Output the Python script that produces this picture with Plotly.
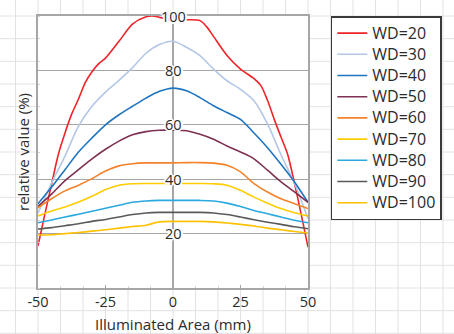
import plotly.graph_objects as go

# Position along the illuminated area (mm)
x_mm = [-50, -45, -40, -35, -30, -25, -20, -15, -10, -5, 0,
        5, 10, 15, 20, 25, 30, 35, 40, 45, 50]

# WD=20 is sampled more densely because of its steep edges
x_wd20 = [-50, -47.5, -45, -42.5, -40, -37.5, -35, -32.5, -30, -27.5, -25,
          -20, -15, -10, -7.5, -5, 0, 5, 10, 12.5, 15, 20, 25, 30, 32.5,
          35, 37.5, 40, 42.5, 45, 47.5, 50]
wd20 = [15.5, 27, 38, 49, 57, 64, 69.5, 75.5, 79.5, 82.5, 84.5,
        90.7, 97, 99.7, 100, 99.5, 98.5, 98.6, 98.3, 96, 92.5, 85.5, 80.5, 77, 74.5,
        69, 62, 55.5, 49, 38.5, 27, 15]

wd30 = [27.5, 38.5, 48.5, 59.5, 66.8, 72, 76.3, 81, 86.3, 89.5, 90.7,
        88.5, 85.4, 80.5, 76.2, 73, 68.8, 60.3, 49, 38.5, 25.5]
wd40 = [31, 37, 43.5, 50, 55.2, 60, 63.7, 66.8, 69.8, 72.3, 73.5,
        72.5, 70, 67, 64.5, 62, 57, 51.6, 45.5, 39, 31.5]
wd50 = [30, 34.5, 39.5, 43.5, 47.5, 51, 54, 56.3, 57.5, 58, 58,
        57.8, 56.5, 54.7, 52.2, 50, 47.5, 43.3, 39, 35.3, 31.5]
wd60 = [29.5, 32.8, 35.7, 37.8, 40.2, 43, 44.9, 45.7, 46, 46, 46,
        46.1, 46.1, 45.9, 45.1, 42.7, 38.4, 35.3, 32.8, 31, 29.2]
wd70 = [26.5, 28.3, 29.8, 31.6, 33.7, 36.2, 37.8, 38.3, 38.4, 38.4, 38.4,
        38.4, 38.4, 38.3, 37.8, 35.9, 33.4, 31.2, 29.2, 27.7, 26.5]
wd80 = [24, 25, 26.1, 27.1, 28.2, 29.3, 30.4, 31.5, 32, 32.2, 32.2,
        32.2, 32.2, 32, 31.2, 30, 28.5, 27.3, 26.1, 24.9, 24]
wd90 = [21.7, 22.2, 22.9, 23.6, 24.5, 25.2, 26.1, 27, 27.6, 27.8, 27.8,
        27.8, 27.8, 27.6, 27, 26.1, 25.1, 24.2, 23.4, 22.5, 21.8]
wd100 = [19.5, 19.6, 20, 20.4, 20.9, 21.4, 22, 22.6, 23.1, 24.3, 24.5,
         24.5, 24.5, 24.3, 23.9, 23.4, 22.8, 22, 21.4, 20.8, 20.2]

series_names = ["WD=20", "WD=30", "WD=40", "WD=50", "WD=60",
                "WD=70", "WD=80", "WD=90", "WD=100"]
series_colors = ["#ee2428", "#b4c7e7", "#1f74c0", "#7e3152", "#f5822a",
                 "#ffcc00", "#2aa8e0", "#5a5a5a", "#ffc000"]

x_ticks = [-50, -25, 0, 25, 50]
y_ticks = [20, 40, 60, 80, 100]

FONT = "Open Sans, Noto Sans, DejaVu Sans, sans-serif"
TEXT = "#2b2b2b"
FRAME = "#a6a6a6"
PAPER_GRID = "#e2e2e2"

fig = go.Figure()

xs = [x_wd20] + [x_mm] * 8
ys = [wd20, wd30, wd40, wd50, wd60, wd70, wd80, wd90, wd100]
for name, color, xv, yv in zip(series_names, series_colors, xs, ys):
    fig.add_trace(go.Scatter(
        x=xv, y=yv, mode="lines",
        # legend rows are spaced for 14 px, the entry text itself is 16 px
        name=f'<span style="font-size:16px">{name}</span>',
        line=dict(color=color, width=1.6, shape="spline", smoothing=0.8),
        hoverinfo="skip",
    ))

# Graph-paper background: one cell = 1/12 of the plot frame
shapes = []
for k in range(-2, 19):
    shapes.append(dict(type="line", xref="paper", yref="paper",
                       x0=k / 12, x1=k / 12, y0=-1, y1=2,
                       line=dict(color=PAPER_GRID, width=1), layer="below"))
for k in range(-3, 13):
    shapes.append(dict(type="line", xref="paper", yref="paper",
                       x0=-1, x1=3, y0=k / 12, y1=k / 12,
                       line=dict(color=PAPER_GRID, width=1), layer="below"))
# White plot area on top of the graph paper
shapes.append(dict(type="rect", xref="x domain", yref="y domain",
                   x0=0, x1=1, y0=0, y1=1, fillcolor="white",
                   line=dict(width=0), layer="below"))

# Value labels sit on the centre line with a white halo
halo = ("1px 0 0 #fff, -1px 0 0 #fff, 0 1px 0 #fff, 0 -1px 0 #fff, "
        "2px 0 0 #fff, -2px 0 0 #fff, 0 2px 0 #fff, 0 -2px 0 #fff, "
        "1px 1px 0 #fff, -1px -1px 0 #fff, 1px -1px 0 #fff, -1px 1px 0 #fff")
annotations = [
    dict(x=0, y=v, xref="x", yref="y", text=str(v), showarrow=False,
         xanchor="center", yanchor="middle",
         font=dict(family=FONT, size=14.5, color=TEXT, shadow=halo))
    for v in y_ticks
]
# Horizontal axis title, centred under the frame
annotations.append(dict(
    x=0.5, y=-36 / 272, xref="paper", yref="paper",
    text="Illuminated Area (mm)", showarrow=False,
    xanchor="center", yanchor="middle",
    font=dict(family=FONT, size=15, color=TEXT)))

fig.update_layout(
    width=454, height=334,
    margin=dict(l=38, r=144, t=16, b=46),
    paper_bgcolor="white", plot_bgcolor="white",
    font=dict(family=FONT, size=14, color=TEXT),
    shapes=shapes, annotations=annotations,
    showlegend=True,
    legend=dict(
        x=(333 - 38) / 272, y=1, xanchor="left", yanchor="top",
        bgcolor="white", bordercolor="#3a3a3a", borderwidth=1.5,
        font=dict(family=FONT, size=14, color=TEXT),
        tracegroupgap=0,
    ),
    xaxis=dict(
        range=[-50, 50], tickvals=x_ticks, ticktext=[str(v) for v in x_ticks],
        showgrid=False, zeroline=True, zerolinecolor=FRAME, zerolinewidth=1.5,
        showline=True, linecolor=FRAME, linewidth=1.5, mirror=True,
        ticks="inside", ticklen=3, tickcolor=FRAME,
        minor=dict(ticks="inside", ticklen=2, tickcolor="#d4d4d4",
                   tick0=-50, dtick=100 / 12),
        tickfont=dict(size=14.5, color=TEXT),
        fixedrange=True,
    ),
    yaxis=dict(
        range=[0, 100], tickvals=y_ticks, showticklabels=False,
        showgrid=True, gridcolor=FRAME, gridwidth=1.2,
        zeroline=False,
        showline=True, linecolor=FRAME, linewidth=1.5, mirror=True,
        ticks="",
        minor=dict(ticks="inside", ticklen=2, tickcolor="#d4d4d4",
                   tick0=0, dtick=100 / 12, showgrid=False),
        title=dict(text="relative value (%)", standoff=3,
                   font=dict(size=15, color=TEXT)),
        fixedrange=True,
    ),
)

fig.write_html("out.html")
